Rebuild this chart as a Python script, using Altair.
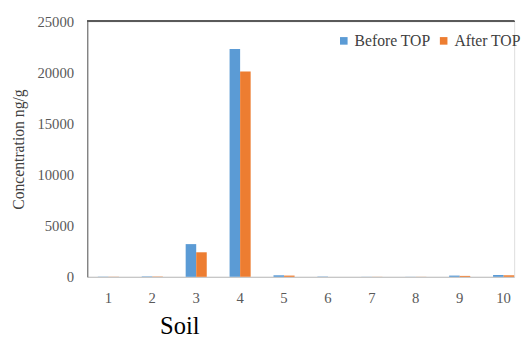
import altair as alt
import pandas as pd

soils = ["1", "2", "3", "4", "5", "6", "7", "8", "9", "10"]
before_top = [20, 40, 3200, 22300, 150, 30, 10, 10, 120, 180]
after_top = [15, 30, 2400, 20100, 120, 15, 10, 10, 90, 150]
series = ["Before TOP", "After TOP"]
colors = ["#5B9BD5", "#ED7D31"]

rows = []
for s, b, a in zip(soils, before_top, after_top):
    rows.append({"Soil": s, "Series": series[0], "Value": b})
    rows.append({"Soil": s, "Series": series[1], "Value": a})
df = pd.DataFrame(rows)

font = "Times New Roman"

bars = alt.Chart(df).mark_bar().encode(
    x=alt.X("Soil:N", sort=soils,
            scale=alt.Scale(paddingInner=0.52, paddingOuter=0.12, align=1),
            axis=alt.Axis(title="Soil", labelAngle=0, ticks=False, domainColor="#BFBFBF",
                          labelFont=font, labelFontSize=15, labelColor="#595959", labelPadding=14,
                          titleFont=font, titleFontSize=25, titleFontWeight="normal", titleColor="#000000",
                          titleX=94, titleAlign="center", titlePadding=9)),
    xOffset=alt.XOffset("Series:N", sort=series),
    y=alt.Y("Value:Q", scale=alt.Scale(domain=[0, 25000], nice=False),
            axis=alt.Axis(title="Concentration ng/g", values=[0, 5000, 10000, 15000, 20000, 25000],
                          format="d",
                          grid=False, ticks=False, domainColor="#595959", labelPadding=14,
                          labelFont=font, labelFontSize=15, labelColor="#595959",
                          titleFont=font, titleFontSize=16, titleFontWeight="normal", titleColor="#404040",
                          titlePadding=11)),
    color=alt.Color("Series:N", sort=series,
                    scale=alt.Scale(domain=series, range=colors),
                    legend=alt.Legend(title=None, orient="none", legendX=254, legendY=12,
                                      direction="horizontal", symbolType="square", symbolSize=60,
                                      labelFont=font, labelFontSize=16, labelColor="#404040",
                                      columnPadding=5, labelOffset=3, symbolStrokeWidth=0)),
)

top = alt.Chart(df).mark_rule(color="#595959", strokeWidth=1).encode(
    y=alt.datum(25000)
)

chart = alt.layer(bars, top).properties(
    width=436, height=261
).configure_view(stroke=None).configure(background="white", font=font,
                                        padding={"left": 2, "top": 3, "right": 0, "bottom": 0})

chart.save("out.html", embed_options={"renderer": "svg", "actions": False})
